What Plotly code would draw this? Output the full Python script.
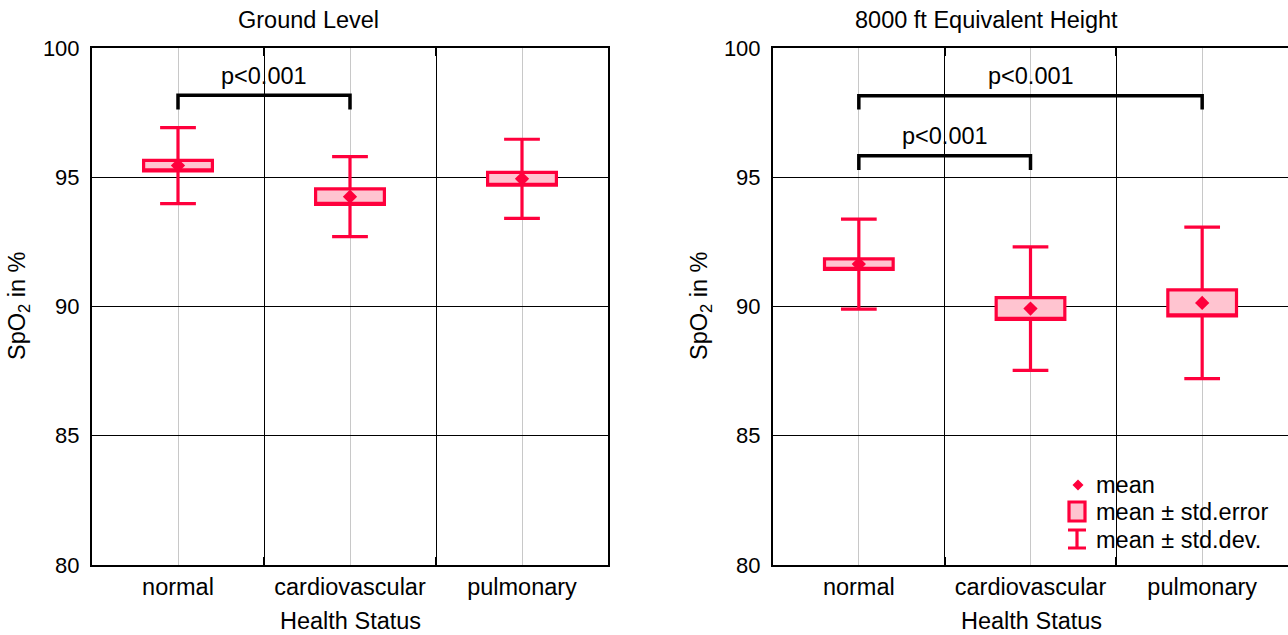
import plotly.graph_objects as go

# ---------------- data ----------------
CATEGORIES = ["normal", "cardiovascular", "pulmonary"]
Y_TICKS = [80, 85, 90, 95, 100]

GROUND_MEAN = [95.45, 94.25, 94.94]
GROUND_SE = [0.20, 0.30, 0.25]
GROUND_SD = [1.47, 1.55, 1.53]

HEIGHT_MEAN = [91.64, 89.92, 90.14]
HEIGHT_SE = [0.20, 0.42, 0.50]
HEIGHT_SD = [1.74, 2.39, 2.93]

# significance brackets: (from category, to category, bar level, tip level, label level, label)
GROUND_BRACKETS = [(0, 1, 98.17, 97.62, 98.92, "p<0.001")]
HEIGHT_BRACKETS = [(0, 2, 98.15, 97.62, 98.92, "p<0.001"),
                   (0, 1, 95.83, 95.28, 96.60, "p<0.001")]

PANEL_TITLES = ["Ground Level", "8000 ft Equivalent Height"]
X_TITLE = "Health Status"
Y_TITLE = "SpO<sub>2</sub> in %"
LEGEND_LABELS = ["mean", "mean ± std.error", "mean ± std.dev."]

# ---------------- style ----------------
RED = "#FF003C"
PINK = "#FFC4D0"
FONT = "Liberation Sans, Arial, sans-serif"
FS = 23.5
FS_NUM = 22
W, H = 1288, 635
ML, MR, MT, MB = 92, 0, 48, 70
PW, PH = W - ML - MR, H - MT - MB


def px(x):
    return (x - ML) / PW


def py(y):
    return (H - MB - y) / PH


fig = go.Figure()


def add_panel(mean, se, sd, xa, ya):
    xs = list(range(len(CATEGORIES)))
    q1 = [m - s for m, s in zip(mean, se)]
    q3 = [m + s for m, s in zip(mean, se)]
    lo = [m - s for m, s in zip(mean, sd)]
    hi = [m + s for m, s in zip(mean, sd)]
    fig.add_trace(go.Box(
        x=xs, q1=q1, median=q1, q3=q3, lowerfence=lo, upperfence=hi,
        width=0.4, whiskerwidth=0.52, boxpoints=False,
        line=dict(color=RED, width=3.2), fillcolor=PINK,
        showlegend=False, hoverinfo="skip", xaxis=xa, yaxis=ya))
    fig.add_trace(go.Scatter(
        x=xs, y=mean, mode="markers",
        marker=dict(symbol="diamond", size=11, color=RED, line=dict(width=0)),
        showlegend=False, hoverinfo="skip", xaxis=xa, yaxis=ya))


add_panel(GROUND_MEAN, GROUND_SE, GROUND_SD, "x", "y")
add_panel(HEIGHT_MEAN, HEIGHT_SE, HEIGHT_SD, "x2", "y2")

shapes = []
annotations = []


def add_brackets(brackets, xr, yr):
    for a, b, bar, tip, lab, text in brackets:
        shapes.append(dict(
            type="path", xref=xr, yref=yr, layer="above",
            path=f"M {a},{tip} L {a},{bar} L {b},{bar} L {b},{tip}",
            line=dict(color="black", width=3.5)))
        annotations.append(dict(
            xref=xr, yref=yr, x=(a + b) / 2, y=lab, text=text, showarrow=False,
            xanchor="center", yanchor="middle", font=dict(size=FS, color="black")))


add_brackets(GROUND_BRACKETS, "x", "y")
add_brackets(HEIGHT_BRACKETS, "x2", "y2")

# titles
for cx, t in zip([308, 986.5], PANEL_TITLES):
    annotations.append(dict(xref="paper", yref="paper", x=px(cx), y=py(20), text=t,
                            showarrow=False, xanchor="center", yanchor="middle",
                            font=dict(size=FS, color="black")))
for cx in [350, 1031]:
    annotations.append(dict(xref="paper", yref="paper", x=px(cx), y=py(621), text=X_TITLE,
                            showarrow=False, xanchor="center", yanchor="middle",
                            font=dict(size=FS, color="black")))
for cx in [18, 700]:
    annotations.append(dict(xref="paper", yref="paper", x=px(cx), y=py(306), text=Y_TITLE,
                            showarrow=False, xanchor="center", yanchor="middle", textangle=-90,
                            font=dict(size=FS, color="black")))

# custom legend (right panel)
shapes.append(dict(type="rect", xref="paper", yref="paper", layer="between",
                   x0=px(1060), x1=px(1292), y0=py(555), y1=py(467),
                   fillcolor="white", line=dict(width=0)))
dx, dy = 1078, 485
shapes.append(dict(type="path", xref="paper", yref="paper", layer="above",
                   path=(f"M {px(dx)},{py(dy - 5.5)} L {px(dx + 5.5)},{py(dy)} "
                         f"L {px(dx)},{py(dy + 5.5)} L {px(dx - 5.5)},{py(dy)} Z"),
                   fillcolor=RED, line=dict(width=0)))
shapes.append(dict(type="rect", xref="paper", yref="paper", layer="above",
                   x0=px(1069), x1=px(1085), y0=py(521), y1=py(502),
                   fillcolor=PINK, line=dict(color=RED, width=3.2)))
shapes.append(dict(type="path", xref="paper", yref="paper", layer="above",
                   path=(f"M {px(1068)},{py(530)} L {px(1086)},{py(530)} "
                         f"M {px(1077)},{py(530)} L {px(1077)},{py(548)} "
                         f"M {px(1068)},{py(548)} L {px(1086)},{py(548)}"),
                   line=dict(color=RED, width=3.2)))
for ty, t in zip([485, 512, 540], LEGEND_LABELS):
    annotations.append(dict(xref="paper", yref="paper", x=px(1094), y=py(ty), text=t,
                            showarrow=False, xanchor="left", yanchor="middle",
                            font=dict(size=FS, color="black")))

xcommon = dict(
    range=[-0.5, 2.5], tickmode="array", tickvals=[0, 1, 2], ticktext=CATEGORIES,
    showgrid=True, gridcolor="#C8C8C8", gridwidth=1, zeroline=False,
    showline=True, linecolor="black", linewidth=2, mirror="ticks",
    ticks="", tickfont=dict(size=FS, color="black"), ticklabelstandoff=0,
    minor=dict(tickmode="array", tickvals=[0.5, 1.5], showgrid=True, gridcolor="black",
               gridwidth=1, ticks="inside", ticklen=8, tickwidth=2, tickcolor="black"),
    automargin=False, fixedrange=True)
ycommon = dict(
    range=[80, 100], tickmode="array", tickvals=Y_TICKS,
    showgrid=True, gridcolor="black", gridwidth=1, zeroline=False,
    showline=True, linecolor="black", linewidth=2, mirror=True,
    ticks="", tickfont=dict(size=FS_NUM, color="black"), ticklabelstandoff=6,
    automargin=False, fixedrange=True)

fig.update_layout(
    template="none",
    width=W, height=H,
    margin=dict(l=ML, r=MR, t=MT, b=MB, pad=0),
    paper_bgcolor="white", plot_bgcolor="white",
    font=dict(family=FONT, size=FS, color="black"),
    showlegend=False,
    xaxis=dict(domain=[0, px(608)], anchor="y", **xcommon),
    yaxis=dict(domain=[0, 1], anchor="x", **ycommon),
    xaxis2=dict(domain=[px(773), 1], anchor="y2", **xcommon),
    yaxis2=dict(domain=[0, 1], anchor="x2", **ycommon),
    shapes=shapes, annotations=annotations,
)

fig.write_html("out.html", config={"displayModeBar": False})
